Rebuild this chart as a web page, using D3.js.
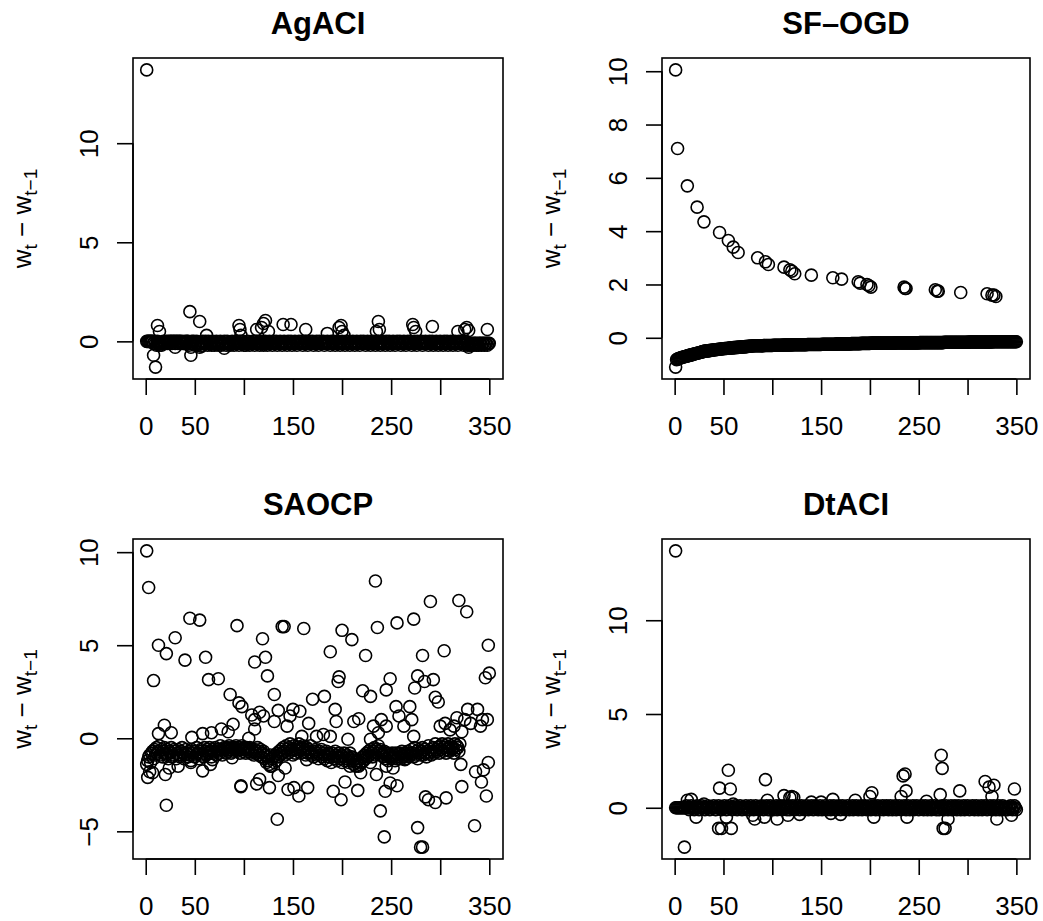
<!DOCTYPE html>
<html>
<head>
<meta charset="utf-8">
<script src="https://cdn.jsdelivr.net/npm/d3@7"></script>
<style>
  body { margin: 0; background: #fff; }
  text { font-family: "Liberation Sans", Arial, sans-serif; fill: #000; }
</style>
</head>
<body>
<svg id="chart" width="1043" height="921"></svg>
<script>
// DATA: base band (t = 1..350) plus sparse points [t, value]
const agBase = [
  0,0,0,0,0,0,0,-.1,0,-.1, -.2,0,-.1,-.2,-.1,-.2,-.1,0,-.1,-.1, 0,-.1,0,-.1,0,0,-.1,0,0,-.1, 0,0,-.1,0,0,-.1,0,-.1,-.1,0, -.1,0,0,-.2,-.1,-.3,0,-.1,0,-.2,
  -.1,0,-.2,-.1,-.3,-.1,-.2,0,-.1,-.1, 0,-.1,-.2,0,-.1,-.1,-.2,0,-.1,-.2, -.1,0,-.1,-.2,-.1,0,-.2,-.1,-.1,0, -.1,-.2,0,-.1,-.1,-.2,-.1,0,-.1,-.2, -.1,0,-.1,-.1,-.2,0,-.1,-.1,0,-.2,
  -.1,-.2,-.1,0,-.1,-.2,-.1,-.1,0,-.1, -.2,-.1,0,-.1,-.1,-.2,0,-.1,-.1,-.2, -.1,0,-.1,-.2,-.1,0,-.1,-.1,-.2,0, -.1,-.1,0,-.2,-.1,-.1,0,-.1,-.2,-.1, 0,-.1,-.1,-.2,0,-.1,-.1,0,-.2,-.1,
  -.1,0,-.1,-.2,-.1,0,-.1,-.1,0,-.2, -.1,-.1,0,-.1,-.2,-.1,0,-.1,-.1,0, -.2,-.1,-.1,0,-.1,-.2,0,-.1,-.1,-.1, 0,-.2,-.1,-.1,0,-.1,-.1,-.2,0,-.1, -.1,0,-.2,-.1,-.1,0,-.1,-.2,-.1,0,
  -.1,-.1,-.2,0,-.1,-.1,0,-.2,-.1,-.1, 0,-.1,-.2,-.1,0,-.1,-.1,-.2,0,-.1, -.1,0,-.1,-.2,-.1,0,-.1,-.1,-.2,0, -.1,-.1,0,-.2,-.1,-.1,0,-.1,-.2,-.1, 0,-.1,-.1,-.2,0,-.1,-.1,0,-.2,-.1,
  -.1,0,-.1,-.2,-.1,0,-.1,-.1,0,-.2, -.1,-.1,0,-.1,-.2,-.1,0,-.1,-.1,0, -.2,-.1,-.1,0,-.1,-.2,0,-.1,-.1,-.1, 0,-.2,-.1,-.1,0,-.1,-.1,-.2,0,-.1, -.1,0,-.2,-.1,-.1,0,-.1,-.2,-.1,0,
  -.1,-.1,-.2,0,-.1,-.1,0,-.2,-.1,-.1, 0,-.1,-.2,-.1,0,-.1,-.1,-.2,0,-.1, -.1,0,-.1,-.2,-.1,0,-.1,-.2,-.3,-.2, -.1,-.2,-.1,-.2,-.1,-.1,-.2,-.1,-.2,-.1, -.1,-.2,-.1,-.1,-.2,-.1,-.1,-.2,-.1,-.1
];
const agExtra = [[1,13.7],[8,-0.7],[10,-1.3],[12,0.8],[14,0.5],[45,1.5],[46,-0.7],[55,1.0],[62,0.3],[95,0.8],[96,0.6],[97,0.3],[113,0.6],
  [118,0.7],[120,0.9],[122,1.05],[125,0.5],[140,0.85],[148,0.85],[163,0.6],[185,0.4],[197,0.7],[199,0.8],[200,0.5],[202,0.3],[235,0.5],
  [237,1.0],[238,0.6],[272,0.85],[273,0.7],[275,0.5],[292,0.75],[318,0.5],[325,0.6],[327,0.7],[329,0.55],[348,0.6],[30,-0.3],[80,-0.35],[57,-0.25]];

const sfBase = [
  -1.1,-.82,-.8,-.78,-.77,-.76,-.74,-.73,-.72,-.71, -.7,-.69,-.68,-.67,-.66,-.65,-.64,-.63,-.62,-.61,
  -.6,-.59,-.58,-.57,-.56,-.55,-.54,-.53,-.52,-.51, -.5,-.5,-.49,-.49,-.48,-.48,-.47,-.47,-.46,-.46,
  -.45,-.45,-.44,-.44,-.43,-.43,-.42,-.42,-.41,-.41, -.4,-.4,-.4,-.39,-.39,-.39,-.38,-.38,-.38,-.37,
  -.37,-.37,-.36,-.36,-.36,-.35,-.35,-.35,-.34,-.34, -.34,-.33,-.33,-.33,-.32,-.32,-.32,-.31,-.31,-.31,
  -.3,-.3,-.3,-.3,-.3,-.3,-.3,-.3,-.3,-.3, -.29,-.29,-.29,-.29,-.29,-.29,-.29,-.29,-.29,-.29,
  -.28,-.28,-.28,-.28,-.28,-.28,-.28,-.28,-.28,-.28, -.27,-.27,-.27,-.27,-.27,-.27,-.27,-.27,-.27,-.27,
  -.26,-.26,-.26,-.26,-.26,-.26,-.26,-.26,-.26,-.26, -.26,-.26,-.26,-.26,-.26,-.25,-.25,-.25,-.25,-.25,
  -.25,-.25,-.25,-.25,-.25,-.25,-.25,-.25,-.25,-.25, -.24,-.24,-.24,-.24,-.24,-.24,-.24,-.24,-.24,-.24,
  -.24,-.24,-.24,-.24,-.24,-.23,-.23,-.23,-.23,-.23, -.23,-.23,-.23,-.23,-.23,-.23,-.23,-.23,-.23,-.23,
  -.22,-.22,-.22,-.22,-.22,-.22,-.22,-.22,-.22,-.22, -.21,-.21,-.21,-.21,-.21,-.21,-.21,-.21,-.21,-.21,
  -.2,-.2,-.2,-.2,-.2,-.2,-.2,-.2,-.2,-.2, -.2,-.2,-.2,-.2,-.2,-.2,-.2,-.2,-.2,-.2,
  -.2,-.2,-.2,-.2,-.2,-.19,-.19,-.19,-.19,-.19, -.19,-.19,-.19,-.19,-.19,-.19,-.19,-.19,-.19,-.19,
  -.19,-.19,-.19,-.19,-.19,-.19,-.19,-.19,-.19,-.19, -.18,-.18,-.18,-.18,-.18,-.18,-.18,-.18,-.18,-.18,
  -.18,-.18,-.18,-.18,-.18,-.18,-.18,-.18,-.18,-.18, -.18,-.18,-.18,-.18,-.18,-.17,-.17,-.17,-.17,-.17,
  -.17,-.17,-.17,-.17,-.17,-.17,-.17,-.17,-.17,-.17, -.17,-.17,-.17,-.17,-.17,-.17,-.17,-.17,-.17,-.17,
  -.16,-.16,-.16,-.16,-.16,-.16,-.16,-.16,-.16,-.16, -.16,-.16,-.16,-.16,-.16,-.16,-.16,-.16,-.16,-.16,
  -.16,-.16,-.16,-.16,-.16,-.15,-.15,-.15,-.15,-.15, -.15,-.15,-.15,-.15,-.15,-.15,-.15,-.15,-.15,-.15,
  -.15,-.15,-.15,-.15,-.15,-.15,-.15,-.15,-.15,-.15
];
const sfExtra = [[1,10.05],[3,7.1],[13,5.7],[23,4.9],[30,4.35],[46,3.95],[55,3.65],[60,3.4],[65,3.2],[85,3.0],[93,2.85],[96,2.75],
  [112,2.65],[118,2.55],[120,2.5],[123,2.4],[140,2.35],[162,2.25],[171,2.2],[188,2.1],[190,2.05],[197,2.0],[199,1.95],[201,1.9],
  [235,1.9],[236,1.85],[237,1.85],[267,1.8],[269,1.75],[270,1.75],[293,1.7],[320,1.65],[325,1.6],[327,1.6],[329,1.55]];

const saBase = [
  -1.4,-1.2,-1.0,-.9,-1.3,-.8,-.7,-1.1,-.6,-.9, -.5,-.8,-.7,-.4,-.9,-.6,-1.0,-.7,-.5,-.8, -.9,-.6,-1.1,-.7,-.8,-.5,-1.0,-.9,-.6,-.7,
  -1.1,-.8,-.6,-.9,-1.0,-.7,-.5,-.8,-1.1,-.9, -.6,-.8,-1.0,-.7,-.9,-1.2,-.6,-.8,-.7,-1.0, -.9,-.5,-.8,-1.1,-.7,-.6,-.9,-.8,-1.0,-.5,
  -.7,-.9,-.6,-.8,-.5,-.7,-1.0,-.6,-.8,-.7, -.5,-.9,-.6,-.7,-.8,-.4,-.6,-.9,-.7,-.5, -.6,-.8,-.5,-.7,-.4,-.6,-.8,-.5,-.7,-.6,
  -.5,-.4,-.7,-.6,-.5,-.8,-.6,-.4,-.7,-.5, -.6,-.8,-.5,-.7,-.6,-.5,-.8,-.6,-.7,-.9, -.6,-.8,-.7,-.5,-.9,-.7,-.6,-1.0,-.8,-.7,
  -1.1,-.9,-1.3,-1.0,-1.2,-1.4,-.9,-1.5,-1.1,-1.0, -1.3,-.9,-1.2,-.8,-1.0,-.7,-.9,-.6,-.8,-.5, -.7,-.9,-.4,-.6,-.8,-.5,-.3,-.7,-.6,-.9,
  -.4,-.8,-.6,-.5,-.7,-.3,-.6,-.8,-.5,-.4, -.7,-.6,-.9,-.5,-.8,-.6,-.7,-.4,-.9,-.8, -1.0,-.7,-.6,-.9,-.8,-1.1,-.7,-.9,-.6,-1.0,
  -.8,-1.1,-.9,-.7,-1.2,-.8,-1.0,-.9,-1.3,-.8, -1.0,-1.1,-.7,-.9,-1.2,-1.0,-.8,-1.1,-.9,-1.3, -1.0,-.8,-1.2,-1.1,-.9,-1.0,-1.3,-.8,-1.1,-1.0,
  -1.2,-1.4,-1.1,-1.5,-1.3,-1.2,-1.5,-1.4,-1.1,-1.3, -1.0,-1.2,-.9,-1.1,-.8,-1.0,-.7,-.9,-.6,-.8, -1.0,-.7,-.5,-.9,-.6,-.8,-.4,-.7,-.6,-.9,
  -.8,-1.0,-.7,-1.1,-.9,-.8,-1.2,-1.0,-.9,-1.1, -.8,-1.0,-.9,-1.2,-.8,-1.1,-.9,-1.0,-.8,-1.1, -.7,-.9,-1.0,-.8,-1.1,-.9,-.7,-1.0,-.8,-.9,
  -.6,-.8,-1.0,-.5,-.9,-.7,-1.1,-.6,-.8,-.9, -.7,-.5,-.9,-.6,-.8,-1.0,-.7,-.4,-.8,-.6, -.9,-.7,-.5,-.8,-.3,-.6,-.7,-.5,-.8,-.4,
  -.6,-.3,-.7,-.5,-.4,-.8,-.6,-.3,-.5,-.7, -.4,-.6,-.5,-.8,-.3,-.6,-.4,-.5,-.7,-.3
];
const saExtra = [[1,10.07],[3,8.1],[8,3.1],[13,5.0],[21,4.55],[30,5.4],[40,4.2],[45,6.45],[55,6.35],[61,4.35],[64,3.15],[74,3.2],[86,2.35],
  [93,6.05],[95,1.9],[98,1.7],[97,-2.6],[108,1.25],[111,0.5],[111,4.1],[119,5.35],[122,4.35],[124,3.35],[131,2.35],[135,1.5],[139,6.0],
  [141,6.0],[161,5.9],[170,2.1],[182,2.25],[188,4.65],[197,3.3],[196,3.05],[200,5.8],[210,5.3],[224,4.45],[221,2.55],[229,2.25],[234,8.45],
  [236,5.95],[245,2.6],[249,3.2],[256,6.2],[273,6.4],[274,2.7],[277,3.35],[282,4.45],[284,3.05],[290,7.35],[293,3.15],[295,2.2],[298,1.95],
  [304,4.7],[319,7.4],[327,6.8],[346,3.25],[349,5.0],[350,3.5],
  [19,0.7],[13,0.25],[26,0.3],[47,0.05],[58,0.25],[67,0.3],[77,0.5],[89,0.75],[84,0.35],[105,0],[111,1.0],[116,1.4],[120,1.2],[131,0.9],
  [144,0.65],[147,1.2],[150,1.55],[157,1.45],[159,0.1],[166,0.8],[174,0.1],[181,0.2],[188,0.1],[193,1.55],[194,0.9],[206,-0.05],[212,0.9],
  [217,1.05],[229,-0.05],[232,0.65],[237,0.3],[240,1.0],[245,0.65],[255,1.7],[258,1.2],[263,0.65],[269,1.7],[271,1.0],[273,0.1],[300,0.65],
  [305,0.8],[310,0.45],[314,0.65],[317,1.1],[322,0.35],[325,1.0],[328,1.55],[331,0.8],[338,1.55],[341,0.65],[343,1.0],[348,1.0],
  [2,-2.1],[4,-1.8],[7,-1.85],[20,-1.95],[21,-3.6],[24,-1.6],[33,-1.5],[46,-1.3],[58,-1.75],[66,-1.4],[68,-1.15],[88,-1.05],[97,-2.55],
  [113,-2.45],[116,-2.2],[126,-2.65],[127,-1.5],[135,-2.0],[134,-4.35],[142,-1.6],[145,-2.75],[151,-2.65],[156,-3.1],[165,-2.65],[164,-1.15],
  [191,-2.85],[199,-3.3],[203,-2.35],[208,-1.5],[216,-2.8],[219,-1.85],[229,-1.3],[235,-1.95],[239,-3.9],[243,-5.3],[244,-2.85],[245,-1.5],
  [249,-2.4],[252,-1.6],[256,-2.55],[264,-1.15],[277,-4.8],[280,-5.85],[282,-5.85],[285,-3.15],[288,-3.3],[295,-3.45],[306,-3.2],[322,-2.6],
  [335,-4.7],[336,-1.8],[342,-2.35],[344,-1.7],[347,-3.1],[349,-1.3],[321,-1.4]];

const dtBase = [
  0,0,0,0,0,0,0,0,0,0, 0,.1,0,0,-.1,0,.1,0,0,-.1, 0,0,.1,0,-.1,0,0,.1,0,0, -.1,0,0,.1,0,-.1,0,0,0,.1, 0,-.1,0,0,.1,0,0,-.1,0,0,
  .1,0,-.1,0,0,.1,0,0,-.1,0, 0,.1,0,-.1,0,0,.1,0,-.1,0, 0,0,.1,-.1,0,0,-.1,.1,0,0, -.1,0,.1,0,0,-.1,0,0,.1,0, -.1,0,0,.1,0,-.1,0,.1,0,0,
  -.1,0,0,.1,-.1,0,0,.1,0,-.1, 0,.1,0,0,-.1,0,.1,-.1,0,0, .1,0,-.1,0,0,.1,0,-.1,0,.1, 0,0,-.1,0,.1,0,-.1,0,0,.1, 0,-.1,0,.1,0,0,-.1,0,.1,0,
  -.1,0,0,.1,0,-.1,0,0,.1,-.1, 0,0,.1,0,-.1,0,0,.1,0,-.1, 0,.1,0,0,-.1,0,.1,0,-.1,0, 0,.1,-.1,0,0,.1,0,-.1,0,0, .1,-.1,0,0,.1,0,-.1,0,0,.1,
  -.1,0,0,.1,0,-.1,0,.1,0,-.1, 0,0,.1,-.1,0,0,.1,0,-.1,0, .1,0,-.1,0,0,.1,-.1,0,0,.1, 0,-.1,0,0,.1,0,-.1,0,.1,0, -.1,0,0,.1,-.1,0,0,.1,0,-.1,
  0,0,.1,0,-.1,0,.1,0,-.1,0, 0,.1,-.1,0,0,.1,0,-.1,0,0, -.1,0,0,.1,0,-.1,0,.1,0,-.1, 0,0,.1,-.1,0,0,.1,0,-.1,0, .1,0,-.1,0,0,.1,-.1,0,0,.1,
  0,-.1,0,0,.1,0,-.1,0,.1,0, -.1,0,0,.1,-.1,0,0,.1,0,-.1, 0,0,.1,0,-.1,0,.1,0,-.1,0, 0,.1,-.1,0,0,.1,0,-.1,0,0, -.1,0,0,.1,0,-.1,0,.1,0,-.1
];
const dtExtra = [[1,13.7],[10,-2.1],[13,0.4],[17,0.45],[22,-0.5],[30,0.2],[45,-1.1],[46,1.05],[48,-1.1],[53,-0.5],[55,2.0],[57,1.0],
  [58,-1.1],[60,0.2],[80,-0.4],[82,-0.6],[92,-0.5],[93,1.5],[95,0.4],[105,-0.6],[112,0.65],[116,-0.4],[118,0.55],[120,0.6],[122,0.55],
  [128,-0.35],[140,0.3],[150,0.3],[160,-0.3],[162,0.45],[170,-0.35],[185,0.4],[200,0.6],[202,0.8],[204,-0.5],[232,0.6],[234,1.7],[236,1.8],
  [237,0.9],[238,-0.5],[258,0.35],[272,0.7],[273,2.8],[274,2.1],[275,-1.1],[277,-1.1],[280,-0.6],[292,0.9],[318,1.4],[322,1.1],[325,0.6],
  [327,1.2],[330,-0.6],[348,1.0],[345,-0.4]];

const xTickValues = [0, 50, 100, 150, 200, 250, 300, 350];
const xTickLabels = [0, 50, 150, 250, 350];

const panels = [
  { title: "AgACI", base: agBase, extra: agExtra, yTicks: [0, 5, 10], box: [133, 58, 503, 379] },
  { title: "SF\u2013OGD", base: sfBase, extra: sfExtra, yTicks: [0, 2, 4, 6, 8, 10], box: [662, 58, 1030, 379] },
  { title: "SAOCP", base: saBase, extra: saExtra, yTicks: [-5, 0, 5, 10], box: [133, 539, 503, 859] },
  { title: "DtACI", base: dtBase, extra: dtExtra, yTicks: [0, 5, 10], box: [662, 539, 1030, 859] }
];

const svg = d3.select("#chart");

panels.forEach(p => {
  const [l, t, r, b] = p.box;
  const pts = p.base.map((v, i) => [i + 1, v]).concat(p.extra);

  // R style 4% padding
  const padX = 349 * 0.04;
  const x = d3.scaleLinear().domain([1 - padX, 350 + padX]).range([l, r]);
  const [ymin, ymax] = d3.extent(pts, d => d[1]);
  const padY = (ymax - ymin) * 0.04;
  const y = d3.scaleLinear().domain([ymin - padY, ymax + padY]).range([b, t]);

  const g = svg.append("g");

  g.selectAll("circle")
    .data(pts)
    .enter()
    .append("circle")
    .attr("cx", d => x(d[0]))
    .attr("cy", d => y(d[1]))
    .attr("r", 6)
    .attr("fill", "none")
    .attr("stroke", "#000")
    .attr("stroke-width", 1.6);

  g.append("rect")
    .attr("x", l).attr("y", t)
    .attr("width", r - l).attr("height", b - t)
    .attr("fill", "none").attr("stroke", "#000").attr("stroke-width", 1.6);

  // x axis
  const xa = g.append("g")
    .attr("transform", `translate(0,${b})`)
    .call(d3.axisBottom(x).tickValues(xTickValues).tickSize(16).tickPadding(22)
      .tickFormat(d => xTickLabels.includes(d) ? d : ""));
  xa.select(".domain").attr("d", `M${x(0)},0H${x(350)}`).attr("stroke-width", 1.6);
  xa.selectAll(".tick line").attr("stroke-width", 1.6);
  xa.selectAll("text").attr("font-size", 26).attr("font-family", "Liberation Sans, Arial, sans-serif");

  // y axis with rotated labels
  const ya = g.append("g")
    .attr("transform", `translate(${l},0)`)
    .call(d3.axisLeft(y).tickValues(p.yTicks).tickSize(16).tickFormat(d => d < 0 ? "\u2212" + (-d) : d));
  const ymn = p.yTicks[0], ymx = p.yTicks[p.yTicks.length - 1];
  ya.select(".domain").attr("d", `M0,${y(ymn)}V${y(ymx)}`).attr("stroke-width", 1.6);
  ya.selectAll(".tick line").attr("stroke-width", 1.6);
  ya.selectAll("text")
    .attr("font-size", 26)
    .attr("font-family", "Liberation Sans, Arial, sans-serif")
    .attr("x", null).attr("dy", null)
    .attr("text-anchor", "middle")
    .attr("transform", "translate(-35,0) rotate(-90)");

  // title
  g.append("text")
    .attr("x", (l + r) / 2)
    .attr("y", t - 24)
    .attr("text-anchor", "middle")
    .attr("font-size", 31)
    .attr("font-weight", "bold")
    .text(p.title);

  // y label w_t - w_{t-1}
  const yl = g.append("text")
    .attr("transform", `translate(${l - 102},${(t + b) / 2}) rotate(-90)`)
    .attr("text-anchor", "middle")
    .attr("font-size", 26);
  yl.append("tspan").text("w");
  yl.append("tspan").attr("font-size", 19).attr("dy", 6).text("t");
  yl.append("tspan").attr("dy", -6).text(" \u2212 w");
  yl.append("tspan").attr("font-size", 19).attr("dy", 6).text("t\u22121");
});
</script>
</body>
</html>
